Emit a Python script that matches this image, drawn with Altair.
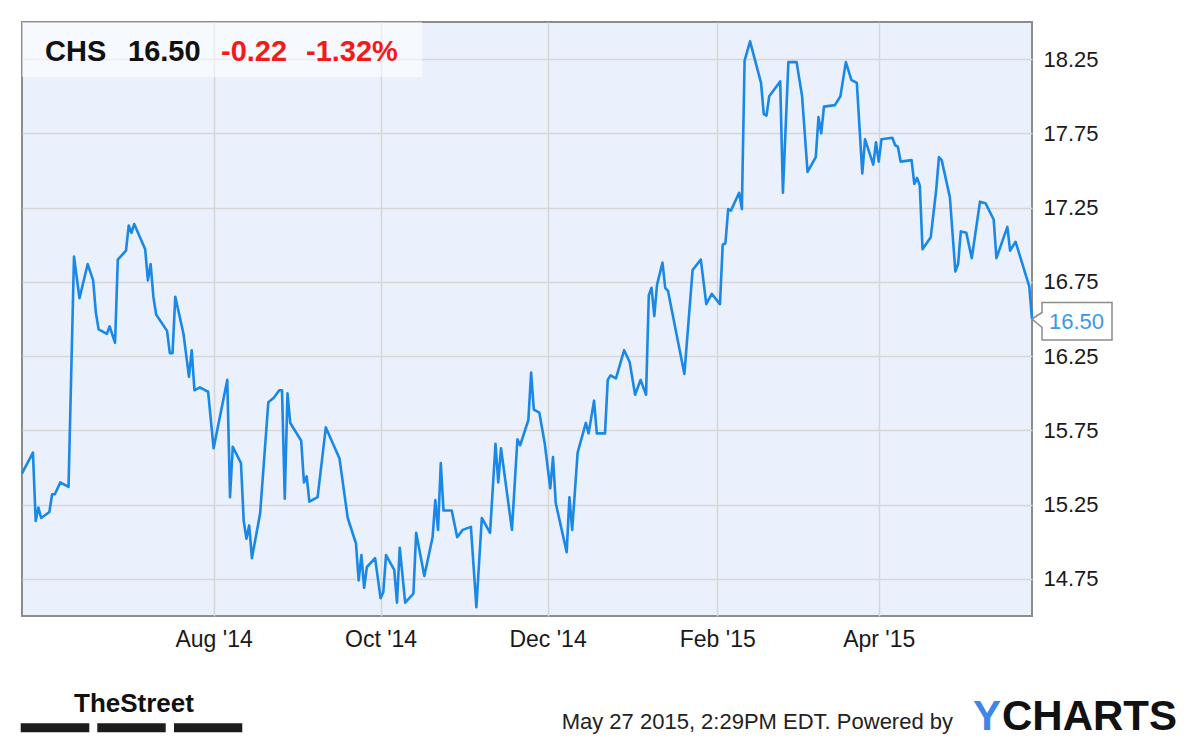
import altair as alt
import pandas as pd

# ---- data (CHS, ~1 year daily closes) ----
dates = [
    "2014-05-23", "2014-05-27", "2014-05-28", "2014-05-29", "2014-05-30", "2014-06-02", "2014-06-03", "2014-06-04", "2014-06-06", "2014-06-09",
    "2014-06-11", "2014-06-13", "2014-06-16", "2014-06-18", "2014-06-19", "2014-06-20", "2014-06-23", "2014-06-24", "2014-06-26", "2014-06-27",
    "2014-06-30", "2014-07-01", "2014-07-02", "2014-07-03", "2014-07-07", "2014-07-08", "2014-07-09", "2014-07-10", "2014-07-11", "2014-07-15",
    "2014-07-16", "2014-07-17", "2014-07-18", "2014-07-21", "2014-07-23", "2014-07-24", "2014-07-25", "2014-07-27", "2014-07-29", "2014-07-30",
    "2014-08-01", "2014-08-06", "2014-08-07", "2014-08-08", "2014-08-11", "2014-08-12", "2014-08-13", "2014-08-14", "2014-08-15", "2014-08-18",
    "2014-08-21", "2014-08-23", "2014-08-25", "2014-08-26", "2014-08-27", "2014-08-28", "2014-08-29", "2014-09-02", "2014-09-03", "2014-09-04",
    "2014-09-05", "2014-09-08", "2014-09-11", "2014-09-16", "2014-09-19", "2014-09-22", "2014-09-23", "2014-09-24", "2014-09-25", "2014-09-26",
    "2014-09-29", "2014-10-01", "2014-10-02", "2014-10-03", "2014-10-06", "2014-10-07", "2014-10-08", "2014-10-10", "2014-10-13", "2014-10-14",
    "2014-10-17", "2014-10-20", "2014-10-21", "2014-10-22", "2014-10-23", "2014-10-24", "2014-10-27", "2014-10-29", "2014-10-31", "2014-11-03",
    "2014-11-05", "2014-11-07", "2014-11-10", "2014-11-12", "2014-11-13", "2014-11-14", "2014-11-18", "2014-11-20", "2014-11-21", "2014-11-24",
    "2014-11-25", "2014-11-26", "2014-11-28", "2014-11-30", "2014-12-02", "2014-12-03", "2014-12-04", "2014-12-08", "2014-12-09", "2014-12-10",
    "2014-12-12", "2014-12-15", "2014-12-16", "2014-12-18", "2014-12-19", "2014-12-22", "2014-12-23", "2014-12-24", "2014-12-26", "2014-12-29",
    "2014-12-31", "2015-01-02", "2015-01-04", "2015-01-06", "2015-01-07", "2015-01-08", "2015-01-09", "2015-01-10", "2015-01-12", "2015-01-13",
    "2015-01-14", "2015-01-20", "2015-01-23", "2015-01-26", "2015-01-28", "2015-01-30", "2015-02-02", "2015-02-03", "2015-02-04", "2015-02-05",
    "2015-02-06", "2015-02-09", "2015-02-10", "2015-02-11", "2015-02-13", "2015-02-17", "2015-02-18", "2015-02-19", "2015-02-20", "2015-02-24",
    "2015-02-25", "2015-02-27", "2015-03-02", "2015-03-04", "2015-03-06", "2015-03-09", "2015-03-10", "2015-03-11", "2015-03-12", "2015-03-16",
    "2015-03-18", "2015-03-20", "2015-03-22", "2015-03-24", "2015-03-26", "2015-03-27", "2015-03-30", "2015-03-31", "2015-04-01", "2015-04-02",
    "2015-04-06", "2015-04-07", "2015-04-08", "2015-04-09", "2015-04-13", "2015-04-14", "2015-04-15", "2015-04-16", "2015-04-17", "2015-04-20",
    "2015-04-22", "2015-04-23", "2015-04-24", "2015-04-27", "2015-04-29", "2015-04-30", "2015-05-01", "2015-05-03", "2015-05-05", "2015-05-08",
    "2015-05-10", "2015-05-13", "2015-05-14", "2015-05-18", "2015-05-19", "2015-05-21", "2015-05-26", "2015-05-27",
]

prices = [
    15.46, 15.60, 15.14, 15.23, 15.16, 15.20, 15.32, 15.32, 15.40, 15.37,
    16.92, 16.64, 16.87, 16.76, 16.54, 16.43, 16.40, 16.45, 16.34, 16.90,
    16.96, 17.13, 17.08, 17.14, 16.97, 16.76, 16.87, 16.65, 16.53, 16.42,
    16.27, 16.27, 16.65, 16.40, 16.11, 16.29, 16.02, 16.04, 16.02, 16.01,
    15.63, 16.09, 15.30, 15.64, 15.53, 15.14, 15.02, 15.11, 14.89, 15.19,
    15.94, 15.97, 16.02, 16.02, 15.29, 16.00, 15.80, 15.68, 15.40, 15.44,
    15.27, 15.30, 15.77, 15.56, 15.16, 14.99, 14.74, 14.91, 14.69, 14.83,
    14.89, 14.62, 14.66, 14.91, 14.81, 14.59, 14.96, 14.59, 14.65, 15.06,
    14.77, 15.03, 15.28, 15.08, 15.53, 15.21, 15.21, 15.03, 15.08, 15.10,
    14.56, 15.16, 15.06, 15.66, 15.40, 15.63, 15.08, 15.69, 15.65, 15.82,
    16.14, 15.89, 15.87, 15.66, 15.36, 15.57, 15.26, 14.93, 15.30, 15.08,
    15.60, 15.80, 15.73, 15.95, 15.73, 15.73, 16.09, 16.12, 16.10, 16.29,
    16.21, 15.99, 16.09, 15.99, 16.66, 16.71, 16.52, 16.73, 16.88, 16.71,
    16.69, 16.13, 16.83, 16.90, 16.60, 16.67, 16.60, 17.00, 17.01, 17.24,
    17.23, 17.35, 17.24, 18.24, 18.37, 18.09, 17.88, 17.87, 18.00, 18.10,
    17.35, 18.23, 18.23, 18.00, 17.49, 17.59, 17.86, 17.75, 17.93, 17.94,
    18.00, 18.23, 18.11, 18.09, 17.48, 17.71, 17.54, 17.69, 17.56, 17.71,
    17.72, 17.67, 17.66, 17.56, 17.57, 17.41, 17.45, 17.40, 16.97, 17.05,
    17.37, 17.59, 17.57, 17.32, 16.82, 16.87, 17.09, 17.08, 16.91, 17.29,
    17.28, 17.17, 16.91, 17.12, 16.96, 17.02, 16.72, 16.50,
]

y_ticks = [14.75, 15.25, 15.75, 16.25, 16.75, 17.25, 17.75, 18.25]
x_tick_months = [(2014, 8), (2014, 10), (2014, 12), (2015, 2), (2015, 4)]
ticker = "CHS"
footer_text = "May 27 2015, 2:29PM EDT. Powered by"

last_price = prices[-1]
change = prices[-1] - prices[-2]
pct = change / prices[-2] * 100
header_parts = [ticker, f"{last_price:.2f}", f"{change:.2f}", f"{pct:.2f}%"]

df = pd.DataFrame({"date": dates, "price": prices})
last = df.tail(1)
one = df.head(1)

FONT = "Liberation Sans"
LINE = "#1a88e6"
RED = "#f51a1a"

x_enc = alt.X(
    "date:T",
    scale=alt.Scale(
        type="utc",
        domain=[alt.DateTime(year=2014, month=5, date=23, utc=True),
                alt.DateTime(year=2015, month=5, date=27, utc=True)],
    ),
    axis=alt.Axis(
        values=[alt.DateTime(year=y, month=m, date=1, utc=True) for y, m in x_tick_months],
        labelExpr="utcFormat(datum.value, \"%b '%y\")",
        grid=True, domain=False, ticks=False, labelPadding=12, title=None,
        labelFontSize=23,
    ),
)
y_enc = alt.Y(
    "price:Q",
    scale=alt.Scale(domain=[14.5, 18.5], zero=False, nice=False),
    axis=alt.Axis(
        orient="right", values=y_ticks, format=".2f",
        grid=True, domain=False, ticks=False, labelPadding=11, title=None,
    ),
)

line = alt.Chart(df).mark_line(color=LINE, strokeWidth=2.6, strokeJoin="round").encode(x=x_enc, y=y_enc)

header_box = alt.Chart(one).mark_rect(fill="white", opacity=0.55).encode(
    x=alt.value(0), x2=alt.value(400), y=alt.value(0), y2=alt.value(55)
)

header_layers = []
for txt, xpos, col in zip(header_parts, [23, 106, 199, 284], ["#111111", "#111111", RED, RED]):
    header_layers.append(
        alt.Chart(one).mark_text(
            text=txt, align="left", baseline="alphabetic", font=FONT,
            fontSize=29, fontWeight="bold", color=col,
        ).encode(x=alt.value(xpos), y=alt.value(39))
    )

CALLOUT = "M 0 0 L 2 -1.3 L 2 -3.3 L 16 -3.3 L 16 4.2 L 2 4.2 L 2 1.7 Z"
callout = alt.Chart(last).mark_point(
    shape=CALLOUT, size=100, filled=True, fill="white", stroke="#8c8c8c",
    strokeWidth=1.5, opacity=1,
).encode(x=x_enc, y=y_enc)
callout_text = alt.Chart(last).mark_text(
    align="left", baseline="middle", dx=17, dy=3, font=FONT, fontSize=22, color="#3d97e8",
).encode(x=x_enc, y=y_enc, text=alt.Text("price:Q", format=".2f"))

# footer
street = alt.Chart(one).mark_text(
    text="TheStreet", align="left", baseline="alphabetic",
    font=FONT, fontSize=26, fontWeight="bold", color="#111111",
).encode(x=alt.value(52), y=alt.value(689.7))

bars = []
for x0, x1 in [(-1.3, 67.3), (75.3, 143.7), (152, 220.3)]:
    bars.append(
        alt.Chart(one).mark_rect(fill="#1c1c1c").encode(
            x=alt.value(x0), x2=alt.value(x1), y=alt.value(701.3), y2=alt.value(710.3)
        )
    )

footer = alt.Chart(one).mark_text(
    text=footer_text, align="left", baseline="alphabetic", font=FONT, fontSize=22, color="#222222",
).encode(x=alt.value(539.7), y=alt.value(707))

logo_y = alt.Chart(one).mark_text(
    text="Y", align="left", baseline="alphabetic", font=FONT, fontSize=42,
    fontWeight="bold", color="#3f87e6",
).encode(x=alt.value(951), y=alt.value(708))
logo_rest = alt.Chart(one).mark_text(
    text="CHARTS", align="left", baseline="alphabetic", font=FONT, fontSize=42,
    fontWeight="bold", color="#111111",
).encode(x=alt.value(980), y=alt.value(708))

chart = alt.layer(
    header_box, line, *header_layers, callout, callout_text,
    street, *bars, footer, logo_y, logo_rest,
).properties(
    width=1010, height=594,
    autosize=alt.AutoSizeParams(type="none"),
    padding={"left": 14, "top": 14, "right": 160, "bottom": 123},
    background="white",
).configure_view(
    fill="#eaf1fc", stroke="#8c8c8c", strokeWidth=2,
).configure_axis(
    gridColor="#d6d6d6", gridWidth=1.5,
    labelFont=FONT, labelFontSize=22, labelColor="#1a1a1a",
)

chart.save("out.html", embed_options={"renderer": "svg", "actions": False})
